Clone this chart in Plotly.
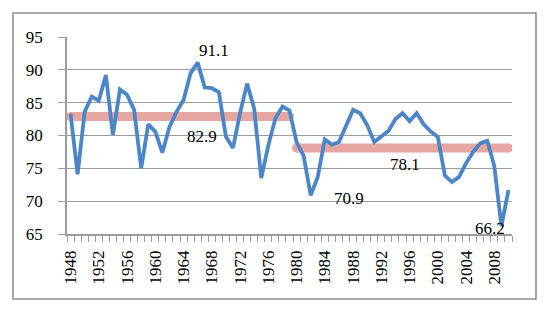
import plotly.graph_objects as go

years = list(range(1948, 2011))
values = [83.3, 74.1, 83.6, 85.9, 85.3, 89.2, 80.1, 87.0, 86.2, 83.9,
          75.0, 81.7, 80.6, 77.4, 81.3, 83.6, 85.4, 89.5, 91.1, 87.3,
          87.2, 86.6, 79.8, 78.1, 83.4, 87.9, 84.1, 73.5, 78.5, 82.6,
          84.4, 83.8, 79.0, 76.9, 70.9, 73.7, 79.4, 78.6, 79.0, 81.6,
          83.9, 83.4, 81.6, 79.0, 79.8, 80.7, 82.5, 83.4, 82.2, 83.4,
          81.7, 80.6, 79.8, 73.9, 72.9, 73.7, 75.8, 77.5, 78.8, 79.2,
          75.3, 66.2, 71.7]
mean1_years = [1948, 1979]
mean1_value = 82.9
mean2_years = [1980, 2010]
mean2_value = 78.1
tick_years = list(range(1948, 2009, 4))
y_ticks = [65, 70, 75, 80, 85, 90, 95]

W, H = 550, 326
L, R, T, B = 67, 38, 37, 92
pw, ph = W - L - R, H - T - B

FONT = "Liberation Serif"
BLUE = "rgb(74,134,200)"
PINK = "rgb(230,166,162)"
GRID = "#9c9c9c"

fig = go.Figure()
for yrs, v in [(mean1_years, mean1_value), (mean2_years, mean2_value)]:
    fig.add_trace(go.Scatter(x=yrs, y=[v, v], mode="lines",
                             line=dict(color=PINK, width=9), hoverinfo="skip"))
    fig.add_trace(go.Scatter(x=yrs, y=[v, v], mode="markers",
                             marker=dict(color=PINK, size=9, line=dict(width=0)),
                             hoverinfo="skip"))
fig.add_trace(go.Scatter(x=years, y=values, mode="lines",
                         line=dict(color=BLUE, width=3.8)))

i_max = values.index(max(values))
i_min = values.index(min(values))
i_82 = years.index(1982)

ann = [
    dict(x=years[i_max], y=values[i_max], text=f"{values[i_max]:.1f}", xshift=16, yshift=12),
    dict(x=1966.6, y=mean1_value, text=f"{mean1_value:.1f}", xshift=0, yshift=-20),
    dict(x=years[i_82], y=values[i_82], text=f"{values[i_82]:.1f}", xshift=38, yshift=-3),
    dict(x=1995.4, y=mean2_value, text=f"{mean2_value:.1f}", xshift=0, yshift=-17),
    dict(x=years[i_min], y=values[i_min], text=f"{values[i_min]:.1f}", xshift=-11, yshift=-2),
]
for a in ann:
    a.update(showarrow=False, font=dict(family=FONT, size=17, color="black"),
             xanchor="center", yanchor="middle")

fig.update_layout(
    width=W, height=H,
    margin=dict(l=L, r=R, t=T, b=B),
    paper_bgcolor="white", plot_bgcolor="white",
    showlegend=False,
    annotations=ann,
    font=dict(family=FONT, size=17, color="black"),
    shapes=[dict(type="rect", xref="paper", yref="paper",
                 x0=(13 - L) / pw, x1=(536 - L) / pw,
                 y0=(H - B - 299) / ph, y1=(H - B - 13) / ph,
                 line=dict(color="#8c8c8c", width=1.5), layer="below")],
)
fig.update_xaxes(
    range=[1947.5, 2010.5], tickmode="array", tickvals=tick_years,
    ticktext=[str(y) for y in tick_years], tickangle=-90,
    ticks="", showgrid=False, showline=True, linecolor=GRID, linewidth=1.5,
    tickfont=dict(family=FONT, size=17), ticklabelstandoff=8,
    minor=dict(tickmode="linear", tick0=1947.5, dtick=1, ticks="outside",
               ticklen=6, tickcolor=GRID, tickwidth=1, showgrid=False),
    zeroline=False,
)
fig.update_yaxes(
    range=[65, 95], tickvals=y_ticks, showgrid=True, gridcolor=GRID, gridwidth=1.2,
    ticks="outside", ticklen=7, tickcolor=GRID, tickwidth=1,
    showline=True, linecolor=GRID, linewidth=1.5, zeroline=False,
    tickfont=dict(family=FONT, size=17), ticklabelstandoff=12,
)

fig.write_html("out.html")
